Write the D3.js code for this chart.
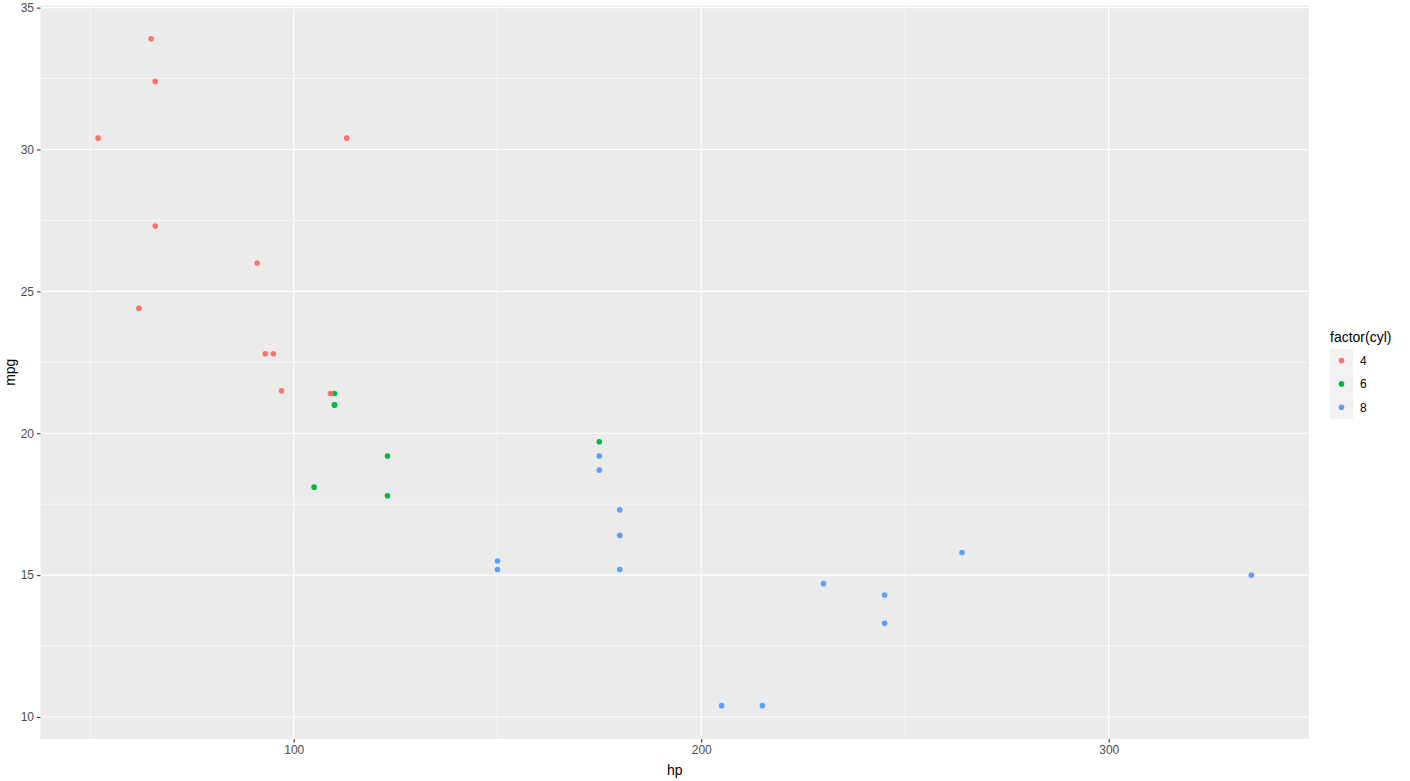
<!DOCTYPE html>
<html><head><meta charset="utf-8">
<script src="https://cdn.jsdelivr.net/npm/d3@7"></script>
<style>body{margin:0;background:#fff;} text{font-family:"Liberation Sans",Arial,sans-serif;}</style>
</head><body>
<svg id="c" width="1410" height="781"></svg>
<script>
const hp  = [110,110,93,110,175,105,245,62,95,123,123,180,180,180,205,215,230,66,52,65,97,150,150,245,175,66,91,113,264,175,335,109];
const mpg = [21.0,21.0,22.8,21.4,18.7,18.1,14.3,24.4,22.8,19.2,17.8,16.4,17.3,15.2,10.4,10.4,14.7,32.4,30.4,33.9,21.5,15.5,15.2,13.3,19.2,27.3,26.0,30.4,15.8,19.7,15.0,21.4];
const cyl = [6,6,4,6,8,6,8,4,4,6,6,8,8,8,8,8,8,4,4,4,4,8,8,8,8,4,4,4,8,6,8,4];
const cylLevels = ["4","6","8"];
const xTicks = [100,200,300];
const xMinor = [50,150,250];
const yTicks = [10,15,20,25,30,35];
const yMinor = [12.5,17.5,22.5,27.5,32.5];

const svg = d3.select("#c");
const L=40.5, R=1309, T=5.5, B=739;
const xe = d3.extent(hp), ye = d3.extent(mpg);
const xp = (xe[1]-xe[0])*0.05, yp=(ye[1]-ye[0])*0.05;
const x = d3.scaleLinear().domain([xe[0]-xp, xe[1]+xp]).range([L,R]);
const y = d3.scaleLinear().domain([ye[0]-yp, ye[1]+yp]).range([B,T]);
const color = d3.scaleOrdinal().domain(cylLevels).range(["#F8766D","#00BA38","#619CFF"]);

svg.append("rect").attr("x",L).attr("y",T).attr("width",R-L).attr("height",B-T).attr("fill","#EBEBEB");
const g = svg.append("g");
g.selectAll(".ymin").data(yMinor).join("line").attr("x1",L).attr("x2",R).attr("y1",d=>y(d)).attr("y2",d=>y(d)).attr("stroke","#fff").attr("stroke-width",0.6);
g.selectAll(".xmin").data(xMinor).join("line").attr("y1",T).attr("y2",B).attr("x1",d=>x(d)).attr("x2",d=>x(d)).attr("stroke","#fff").attr("stroke-width",0.6);
g.selectAll(".ymaj").data(yTicks).join("line").attr("x1",L).attr("x2",R).attr("y1",d=>y(d)).attr("y2",d=>y(d)).attr("stroke","#fff").attr("stroke-width",1.2);
g.selectAll(".xmaj").data(xTicks).join("line").attr("y1",T).attr("y2",B).attr("x1",d=>x(d)).attr("x2",d=>x(d)).attr("stroke","#fff").attr("stroke-width",1.2);

const xa = svg.append("g").attr("transform",`translate(0,${B})`).call(d3.axisBottom(x).tickValues(xTicks).tickSize(3.5).tickPadding(3));
const ya = svg.append("g").attr("transform",`translate(${L},0)`).call(d3.axisLeft(y).tickValues(yTicks).tickSize(3.5).tickPadding(3));
[xa,ya].forEach(a=>{a.select(".domain").remove();a.selectAll(".tick line").attr("stroke","#333").attr("stroke-width",1.1);a.selectAll("text").attr("fill","#4D4D4D").attr("font-size","12px").attr("font-family","Liberation Sans, Arial, sans-serif");});

svg.append("g").selectAll("circle").data(hp.map((h,i)=>({h,m:mpg[i],c:String(cyl[i])}))).join("circle")
 .attr("cx",d=>x(d.h)).attr("cy",d=>y(d.m)).attr("r",2.8).attr("fill",d=>color(d.c));

svg.append("text").attr("x",(L+R)/2).attr("y",775).attr("text-anchor","middle").attr("font-size","14px").attr("fill","#000").text("hp");
svg.append("text").attr("transform",`translate(15,${(T+B)/2}) rotate(-90)`).attr("text-anchor","middle").attr("font-size","14px").attr("fill","#000").text("mpg");

// legend
const lg = svg.append("g");
lg.append("text").attr("x",1330).attr("y",342).attr("font-size","14px").attr("fill","#000").text("factor(cyl)");
cylLevels.forEach((lv,i)=>{
  const yy = 349 + i*23.3;
  lg.append("rect").attr("x",1330).attr("y",yy).attr("width",23).attr("height",23.3).attr("fill","#F2F2F2");
  lg.append("circle").attr("cx",1341.5).attr("cy",yy+11.6).attr("r",2.8).attr("fill",color(lv));
  lg.append("text").attr("x",1360).attr("y",yy+16).attr("font-size","12px").attr("fill","#000").text(lv);
});
</script>
</body></html>
